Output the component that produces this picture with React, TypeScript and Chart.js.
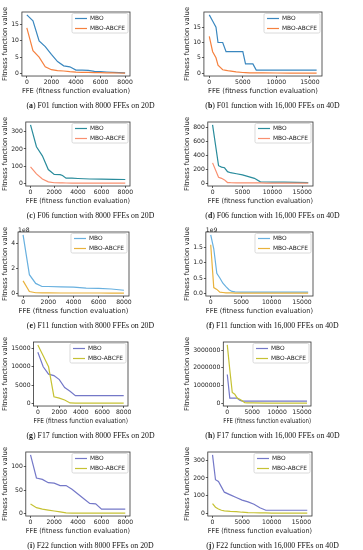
import React, { useEffect, useRef } from 'react';
import { Chart, registerables } from 'chart.js';
Chart.register(...registerables);

// ---------- data ----------
const seriesNames = ['MBO', 'MBO-ABCFE'];
const xTicks8k = [0, 2000, 4000, 6000, 8000];
const xTicks16k = [0, 5000, 10000, 15000];

// (a) F01, 20D
const fxA = [0, 500, 1000, 1500, 2000, 2500, 3000, 3500, 4000, 4500, 5000, 5500, 6000, 6500, 7000, 7500, 8000];
const mboA = [18, 16.2, 10, 8.2, 5.8, 3.6, 2.3, 2.0, 1.0, 1.0, 0.9, 0.6, 0.5, 0.4, 0.3, 0.2, 0.1];
const abcA = [14, 7, 5, 2, 1.1, 0.8, 0.7, 0.5, 0.35, 0.3, 0.25, 0.2, 0.2, 0.15, 0.1, 0.08, 0.05];
const yTicksA = [0, 5, 10, 15];

// (b) F01, 40D
const fxB = [0, 500, 1000, 1300, 2000, 2500, 3000, 4000, 5000, 5400, 6000, 6500, 7000, 8000, 10000, 12000, 14000, 16000];
const mboB = [19, 17, 15, 10, 10, 7, 7, 7, 7, 3, 3, 3, 1, 1, 1, 1, 1, 1];
const abcB = [12, 7, 5, 2.6, 1.1, 0.9, 0.7, 0.4, 0.2, 0.15, 0.1, 0.1, 0.08, 0.05, 0.03, 0.02, 0.01, 0];
const yTicksB = [0, 5, 10, 15];

// (c) F06, 20D
const fxC = [0, 500, 1000, 1500, 2000, 2500, 2700, 3000, 3500, 4000, 5000, 6000, 7000, 8000];
const mboC = [340, 213, 160, 80, 52, 50, 45, 30, 30, 28, 25, 24, 23, 22];
const abcC = [95, 55, 25, 8, 3, 2, 2, 1.5, 1.2, 1, 1, 1, 1, 1];
const yTicksC = [0, 100, 200, 300];

// (d) F06, 40D
const fxD = [0, 1000, 1500, 2000, 2500, 3000, 4000, 5000, 6000, 7000, 8000, 9000, 10000, 12000, 14000, 16000];
const mboD = [830, 250, 230, 220, 165, 150, 135, 120, 95, 70, 20, 18, 17, 15, 12, 10];
const abcD = [290, 85, 70, 48, 10, 8, 6, 5, 5, 4, 4, 3, 3, 3, 2, 2];
const yTicksD = [0, 200, 400, 600, 800];

// (e) F11, 20D
const fxE = [0, 500, 1000, 1500, 2000, 3000, 4000, 5000, 6000, 7000, 8000];
const mboE = [4.7e8, 1.5e8, 0.8e8, 0.55e8, 0.55e8, 0.52e8, 0.5e8, 0.42e8, 0.4e8, 0.35e8, 0.25e8];
const abcE = [1.0e8, 0.15e8, 0.05e8, 0.04e8, 0.04e8, 0.03e8, 0.03e8, 0.03e8, 0.03e8, 0.02e8, 0.02e8];
const yTicksE = [0, 2e8, 4e8];
const yLabelsE = ['0', '2', '4'];

// (f) F11, 40D
const fxF = [0, 500, 1000, 1500, 2000, 2500, 3000, 3500, 4000, 5000, 8000, 12000, 16000];
const mboF = [1.9e9, 1.45e9, 0.65e9, 0.5e9, 0.33e9, 0.22e9, 0.12e9, 0.065e9, 0.05e9, 0.04e9, 0.04e9, 0.04e9, 0.04e9];
const abcF = [1.58e9, 0.19e9, 0.13e9, 0.04e9, 0.03e9, 0.02e9, 0.02e9, 0.015e9, 0.01e9, 0.01e9, 0.01e9, 0.01e9, 0.01e9];
const yTicksF = [0, 0.5e9, 1.0e9, 1.5e9];
const yLabelsF = ['0.0', '0.5', '1.0', '1.5'];

// (g) F17, 20D
const fxG = [0, 500, 1000, 1500, 2000, 2500, 3000, 3500, 4000, 5000, 6000, 7000, 8000];
const mboG = [14000, 10000, 8000, 7600, 6500, 4300, 3300, 2100, 2100, 2100, 2100, 2100, 2100];
const abcG = [16000, 13000, 10000, 1800, 1400, 900, 100, 50, 50, 50, 50, 50, 50];
const yTicksG = [0, 5000, 10000, 15000];

// (h) F17, 40D
const fxH = [0, 500, 1000, 1500, 2000, 2500, 3000, 3500, 4000, 5000, 8000, 12000, 16000];
const mboH = [1.62e6, 0.28e6, 0.28e6, 0.28e6, 0.28e6, 0.17e6, 0.11e6, 0.11e6, 0.11e6, 0.11e6, 0.11e6, 0.11e6, 0.11e6];
const abcH = [3.3e6, 1.9e6, 0.6e6, 0.5e6, 0.28e6, 0.22e6, 0.13e6, 0.02e6, 0.01e6, 0.01e6, 0, 0, 0];
const yTicksH = [0, 1000000, 2000000, 3000000];

// (i) F22, 20D
const fxI = [0, 500, 1000, 1500, 2000, 2500, 3000, 3500, 4000, 4500, 5000, 5500, 6000, 7000, 8000];
const mboI = [125, 76, 73, 66, 65, 60, 60, 52, 42, 32, 22, 21, 10, 10, 10];
const abcI = [21, 13, 10, 8, 6, 4, 2, 1.5, 1.5, 1.5, 1.5, 1.5, 1.5, 1.5, 1.5];
const yTicksI = [0, 50, 100];

// (j) F22, 40D
const fxJ = [0, 500, 1000, 1500, 2000, 3000, 4000, 5000, 6000, 7000, 8000, 9000, 10000, 12000, 14000, 16000];
const mboJ = [330, 190, 180, 150, 120, 105, 90, 75, 65, 52, 32, 18, 18, 18, 18, 18];
const abcJ = [55, 35, 25, 18, 15, 12, 10, 7, 5, 4, 3, 3, 2, 2, 2, 2];
const yTicksJ = [0, 100, 200, 300];

// ---------- styles / layout ----------
const PAL1 = ['#3a87bf', '#f5813f'];
const PAL2 = ['#2a8c9c', '#f99070'];
const PAL3 = ['#68b0df', '#e9b23c'];
const PAL4 = ['#7478c8', '#c6c234'];

type Spec = {
  letter: string; caption: string; fx: number[]; mbo: number[]; abc: number[];
  xTicks: number[]; yTicks: number[]; yLabels?: string[]; offset?: string;
  colors: string[]; col: number; row: number; right: number; width?: number;
};

const SPECS: Spec[] = [
  { letter: 'a', caption: 'F01 function with 8000 FFEs on 20D', fx: fxA, mbo: mboA, abc: abcA, xTicks: xTicks8k, yTicks: yTicksA, colors: PAL1, col: 0, row: 0, right: 130 },
  { letter: 'b', caption: 'F01 function with 16,000 FFEs on 40D', fx: fxB, mbo: mboB, abc: abcB, xTicks: xTicks16k, yTicks: yTicksB, colors: PAL1, col: 1, row: 0, right: 140 },
  { letter: 'c', caption: 'F06 function with 8000 FFEs on 20D', fx: fxC, mbo: mboC, abc: abcC, xTicks: xTicks8k, yTicks: yTicksC, colors: PAL2, col: 0, row: 1, right: 130 },
  { letter: 'd', caption: 'F06 function with 16,000 FFEs on 40D', fx: fxD, mbo: mboD, abc: abcD, xTicks: xTicks16k, yTicks: yTicksD, colors: PAL2, col: 1, row: 1, right: 131 },
  { letter: 'e', caption: 'F11 function with 8000 FFEs on 20D', fx: fxE, mbo: mboE, abc: abcE, xTicks: xTicks8k, yTicks: yTicksE, yLabels: yLabelsE, offset: '1e8', colors: PAL3, col: 0, row: 2, right: 129 },
  { letter: 'f', caption: 'F11 function with 16,000 FFEs on 40D', fx: fxF, mbo: mboF, abc: abcF, xTicks: xTicks16k, yTicks: yTicksF, yLabels: yLabelsF, offset: '1e9', colors: PAL3, col: 1, row: 2, right: 131 },
  { letter: 'g', caption: 'F17 function with 8000 FFEs on 20D', fx: fxG, mbo: mboG, abc: abcG, xTicks: xTicks8k, yTicks: yTicksG, colors: PAL4, col: 0, row: 3, right: 128 },
  { letter: 'h', caption: 'F17 function with 16,000 FFEs on 40D', fx: fxH, mbo: mboH, abc: abcH, xTicks: xTicks16k, yTicks: yTicksH, colors: PAL4, col: 1, row: 3, right: 129, width: 142 },
  { letter: 'i', caption: 'F22 function with 8000 FFEs on 20D', fx: fxI, mbo: mboI, abc: abcI, xTicks: xTicks8k, yTicks: yTicksI, colors: PAL4, col: 0, row: 4, right: 130 },
  { letter: 'j', caption: 'F22 function with 16,000 FFEs on 40D', fx: fxJ, mbo: mboJ, abc: abcJ, xTicks: xTicks16k, yTicks: yTicksJ, colors: PAL4, col: 1, row: 4, right: 130 },
];

const CELL_W = 181;
const COL_X = [0, 182];
const ROW_H = 110;
const CANVAS_H = 95;
const FONT = 'DejaVu Sans';
const TEXT = '#222';
const TICK_SIZE = 6.1;
const TITLE_SIZE = 6.8;

const framePlugin = {
  id: 'frame',
  afterDraw(chart: any, _args: any, opts: any) {
    const { ctx, chartArea: a } = chart;
    ctx.save();
    ctx.strokeStyle = '#333';
    ctx.lineWidth = 0.8;
    ctx.strokeRect(a.left, a.top, a.right - a.left, a.bottom - a.top);
    // legend
    ctx.font = `5.9px "${FONT}"`;
    const labels = chart.data.datasets.map((d: any) => d.label);
    const tw = Math.max(...labels.map((l: string) => ctx.measureText(l).width));
    const w = 3 + 12 + 3 + tw + 3;
    const h = 19.5;
    const x0 = a.right - 2 - w;
    const y0 = a.top + 1.5;
    ctx.beginPath();
    ctx.roundRect(x0, y0, w, h, 1.5);
    ctx.fillStyle = 'rgba(255,255,255,0.85)';
    ctx.fill();
    ctx.strokeStyle = '#d0d0d0';
    ctx.lineWidth = 0.8;
    ctx.stroke();
    chart.data.datasets.forEach((d: any, i: number) => {
      const yy = y0 + 5 + i * 10;
      ctx.beginPath();
      ctx.moveTo(x0 + 3, yy);
      ctx.lineTo(x0 + 15, yy);
      ctx.strokeStyle = d.borderColor;
      ctx.lineWidth = 1.2;
      ctx.stroke();
      ctx.fillStyle = TEXT;
      ctx.textBaseline = 'middle';
      ctx.textAlign = 'left';
      ctx.fillText(d.label, x0 + 18, yy + 0.3);
    });
    if (opts && opts.offset) {
      ctx.font = `${TICK_SIZE}px "${FONT}"`;
      ctx.fillStyle = TEXT;
      ctx.textBaseline = 'bottom';
      ctx.textAlign = 'left';
      ctx.fillText(opts.offset, a.left, a.top + 1);
    }
    ctx.restore();
  },
};

function MiniChart({ spec }: { spec: Spec }) {
  const ref = useRef<HTMLCanvasElement | null>(null);
  const width = spec.width ?? CELL_W;
  useEffect(() => {
    const all = spec.mbo.concat(spec.abc);
    const ymin = Math.min(...all), ymax = Math.max(...all);
    const yr = ymax - ymin;
    const xmin = spec.fx[0], xmax = spec.fx[spec.fx.length - 1];
    const xr = xmax - xmin;
    const tickGrid = { display: true, drawOnChartArea: false, drawTicks: true, tickLength: 2, color: '#333', lineWidth: 0.8 };
    const chart = new Chart(ref.current as HTMLCanvasElement, {
      type: 'line',
      data: {
        datasets: [
          { label: seriesNames[0], data: spec.fx.map((x, i) => ({ x, y: spec.mbo[i] })), borderColor: spec.colors[0], backgroundColor: spec.colors[0], borderWidth: 1.2, pointRadius: 0, tension: 0, fill: false, order: 1 },
          { label: seriesNames[1], data: spec.fx.map((x, i) => ({ x, y: spec.abc[i] })), borderColor: spec.colors[1], backgroundColor: spec.colors[1], borderWidth: 1.2, pointRadius: 0, tension: 0, fill: false, order: 0 },
        ],
      },
      options: {
        responsive: false,
        animation: false,
        devicePixelRatio: 1,
        layout: { padding: { left: 1, right: width - spec.right, top: 12, bottom: 0 } },
        plugins: { legend: { display: false }, tooltip: { enabled: false }, frame: { offset: spec.offset } } as any,
        scales: {
          x: {
            type: 'linear',
            min: xmin - 0.05 * xr,
            max: xmax + 0.05 * xr,
            afterBuildTicks: (axis: any) => { axis.ticks = spec.xTicks.map((v) => ({ value: v })); },
            ticks: { autoSkip: false, maxRotation: 0, padding: 0.5, color: TEXT, font: { family: FONT, size: TICK_SIZE }, callback: (v: any) => String(v) },
            grid: tickGrid,
            border: { display: false },
            title: { display: true, text: 'FFE (fitness function evaluation)', color: TEXT, font: { family: FONT, size: TITLE_SIZE }, padding: { top: 0.5, bottom: 0 } },
          },
          y: {
            type: 'linear',
            min: ymin - 0.05 * yr,
            max: ymax + 0.05 * yr,
            afterBuildTicks: (axis: any) => { axis.ticks = spec.yTicks.map((v) => ({ value: v })); },
            ticks: {
              autoSkip: false, padding: 1, color: TEXT, font: { family: FONT, size: TICK_SIZE },
              callback: (v: any) => { const k = spec.yTicks.indexOf(v); return spec.yLabels && k >= 0 ? spec.yLabels[k] : String(v); },
            },
            grid: tickGrid,
            border: { display: false },
            title: { display: true, text: 'Fitness function value', color: TEXT, font: { family: FONT, size: TITLE_SIZE }, padding: { top: 0, bottom: 1 } },
          },
        },
      },
      plugins: [framePlugin as any],
    });
    return () => chart.destroy();
  }, []);
  return (
    <>
      <canvas
        ref={ref}
        width={width}
        height={CANVAS_H}
        style={{ position: 'absolute', left: COL_X[spec.col], top: spec.row * ROW_H, width, height: CANVAS_H }}
      />
      <div
        style={{
          position: 'absolute', left: COL_X[spec.col], top: spec.row * ROW_H + 101, width: CELL_W,
          textAlign: 'center', fontFamily: '"Liberation Serif", serif', fontSize: 7.8, lineHeight: '9px', color: '#111', whiteSpace: 'nowrap',
          willChange: 'transform', transform: 'translateZ(0)',
        }}
      >
        (<b>{spec.letter}</b>) {spec.caption}
      </div>
    </>
  );
}

export default function App() {
  return (
    <div style={{ position: 'fixed', left: 0, top: 0, width: 363, height: 550, background: '#fff', overflow: 'hidden' }}>
      {SPECS.map((s) => <MiniChart key={s.letter} spec={s} />)}
    </div>
  );
}
